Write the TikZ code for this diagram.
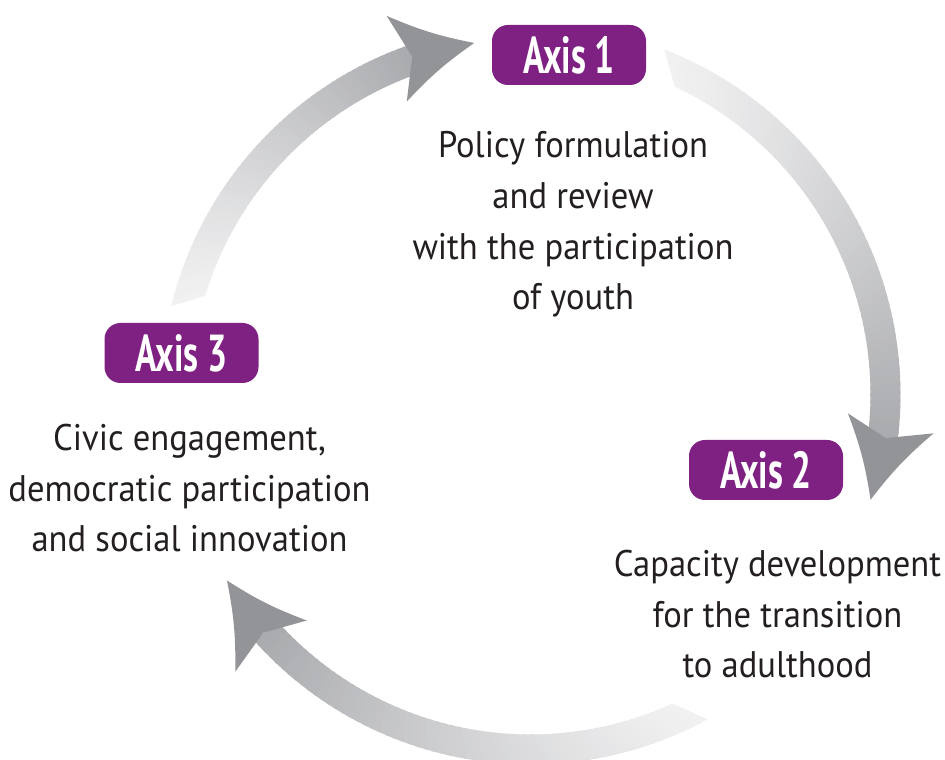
\documentclass[tikz,border=0pt]{standalone}
\usepackage{fontspec}
\setmainfont{PT Sans}[FakeStretch=0.935]
\newfontfamily\axisfont{PT Sans}[FakeStretch=0.68]
\definecolor{axispurple}{HTML}{7F2182}
\definecolor{txtcol}{HTML}{231F20}
\definecolor{headg}{HTML}{939498}
\definecolor{darkg}{HTML}{A9AAAD}
\definecolor{lightg}{HTML}{F1F1F2}
\tikzset{
  axisbox/.style={fill=axispurple, rounded corners=16pt, minimum width=154pt,
    minimum height=60pt, inner sep=0pt, text=white,
    font=\axisfont\bfseries\fontsize{52}{52}\selectfont},
  bodytext/.style={align=center, text=txtcol, inner sep=0pt, anchor=base,
    font=\fontsize{37}{50.8}\selectfont}
}
% #1 inner tail angle, #2 outer tail angle, #3 notch angle
\newcommand{\ringarrow}[3]{%
  \foreach \k in {0,...,59}{%
    \pgfmathsetmacro\ta{\k/60}%
    \pgfmathsetmacro\tb{min((\k+1.4)/60,1)}%
    \pgfmathsetmacro\iA{#1+(#3-#1)*\ta}%
    \pgfmathsetmacro\iB{#1+(#3-#1)*\tb}%
    \pgfmathsetmacro\oA{#2+(#3-#2)*\ta}%
    \pgfmathsetmacro\oB{#2+(#3-#2)*\tb}%
    \pgfmathsetmacro\pc{100*((\k+0.5)/60)^1.2}%
    \fill[darkg!\pc!lightg] (\oA:370pt) arc[start angle=\oA, end angle=\oB, radius=370pt]
      -- (\iB:340pt) arc[start angle=\iB, end angle=\iA, radius=340pt] -- cycle;
  }%
  \pgfmathsetmacro\tipA{#3-10.2}%
  \pgfmathsetmacro\obA{#3+1.5}%
  \pgfmathsetmacro\ibA{#3+3.6}%
  \fill[headg] (\tipA:356pt) to[bend left=6] (\obA:405pt) -- (#3:358pt)
    -- (\ibA:318pt) to[bend left=6] (\tipA:356pt) -- cycle;
}
\begin{document}
\begin{tikzpicture}[x=1pt,y=1pt]
\useasboundingbox (0,0) rectangle (945,760);
\begin{scope}[shift={(530.5,365.5)}]
  \ringarrow{163.1}{166.2}{109.3}
  \ringarrow{64.9}{68.8}{-7}
  \ringarrow{294.7}{298.6}{221.7}
\end{scope}
\node[axisbox] (ax1) at (569,705) {Axis 1};
\node[axisbox] (ax2) at (766,290) {Axis 2};
\node[axisbox] (ax3) at (181.5,407) {Axis 3};
\node[bodytext] (t1) at (573,450) {Policy formulation\\and review\\with the participation\\of youth};
\node[bodytext] (t2) at (777.5,82) {Capacity development\\for the transition\\to adulthood};
\node[bodytext] (t3) at (189.5,208) {Civic engagement,\\democratic participation\\and social innovation};
\end{tikzpicture}
\end{document}
